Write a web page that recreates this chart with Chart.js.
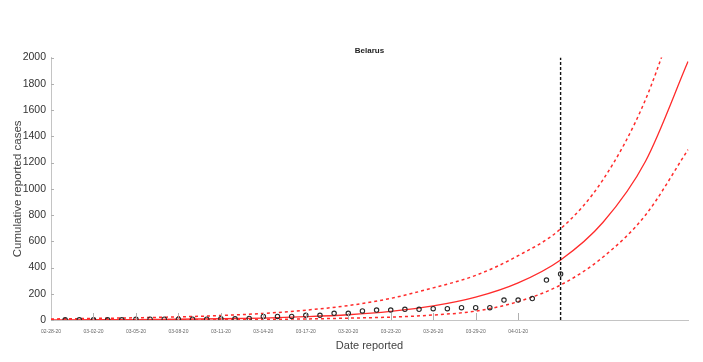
<!DOCTYPE html>
<html>
<head>
<meta charset="utf-8">
<title>Belarus</title>
<script src="https://cdn.jsdelivr.net/npm/chart.js@4.4.1/dist/chart.umd.min.js"></script>
<style>
  html, body { margin: 0; padding: 0; background: #fff; }
  canvas { display: block; }
</style>
</head>
<body>
<canvas id="casesChart" width="703" height="362"></canvas>
<script>
// every day on the x axis
const dateLabels = [
  "02-28-20", "02-29-20",
  "03-01-20", "03-02-20", "03-03-20", "03-04-20", "03-05-20", "03-06-20", "03-07-20", "03-08-20",
  "03-09-20", "03-10-20", "03-11-20", "03-12-20", "03-13-20", "03-14-20", "03-15-20", "03-16-20",
  "03-17-20", "03-18-20", "03-19-20", "03-20-20", "03-21-20", "03-22-20", "03-23-20", "03-24-20",
  "03-25-20", "03-26-20", "03-27-20", "03-28-20", "03-29-20", "03-30-20", "03-31-20",
  "04-01-20", "04-02-20", "04-03-20", "04-04-20", "04-05-20", "04-06-20", "04-07-20", "04-08-20",
  "04-09-20", "04-10-20", "04-11-20", "04-12-20", "04-13-20"
];

// the dates that get a printed label
const tickLabels = [
  "02-28-20", "03-02-20", "03-05-20", "03-08-20", "03-11-20", "03-14-20",
  "03-17-20", "03-20-20", "03-23-20", "03-26-20", "03-29-20", "04-01-20"
];

// reported cases (circles)
const observedDates = dateLabels.slice(1, 37);
const observedCases = [
  1, 1, 1, 1, 1, 6, 6, 6, 6, 6, 6, 9, 9, 12, 27, 27, 27, 36, 36, 51, 51,
  69, 76, 76, 81, 81, 86, 86, 94, 94, 94, 152, 152, 163, 304, 351
];

// fitted curve and its bounds, read every third day
const fitDates = [
  "02-28-20", "03-02-20", "03-05-20", "03-08-20", "03-11-20", "03-14-20", "03-17-20", "03-20-20",
  "03-23-20", "03-26-20", "03-29-20", "04-01-20", "04-04-20", "04-07-20", "04-10-20", "04-13-20"
];
const fitCentral = [1.4, 2.2, 3.6, 5.8, 9.4, 15, 25, 40, 66, 107, 174, 283, 458, 745, 1210, 1970];
const fitUpper   = [8, 12, 17, 24, 34, 50, 75, 110, 165, 245, 340, 490, 695, 1070, 1680, 2600];
const fitLower   = [0, 0.5, 1, 2, 3, 5, 8, 14, 22, 38, 68, 140, 267, 480, 800, 1298];

const cutoffDate = "04-04-20";
const yTicks = [0, 200, 400, 600, 800, 1000, 1200, 1400, 1600, 1800, 2000];

const FONT = "'Liberation Sans', Arial, Helvetica, sans-serif";
const RED = "#ff2b2b";
const AXIS = "#c4c4c4";

const pairs = (xs, ys) => xs.map((d, i) => ({ x: d, y: ys[i] }));

// small tick marks pointing into the plot
const inwardTicks = {
  id: "inwardTicks",
  afterDraw(chart) {
    const { ctx, chartArea, scales } = chart;
    const x = scales.x, y = scales.y;
    ctx.save();
    ctx.strokeStyle = "#b0b0b0";
    ctx.lineWidth = 1;
    ctx.beginPath();
    tickLabels.forEach((d) => {
      const i = dateLabels.indexOf(d);
      if (i <= 0) return;
      const px = Math.round(x.getPixelForValue(i)) + 0.5;
      ctx.moveTo(px, chartArea.bottom);
      ctx.lineTo(px, chartArea.bottom - 7);
    });
    yTicks.forEach((v) => {
      const py = Math.round(y.getPixelForValue(v)) + 0.5;
      ctx.moveTo(chartArea.left, py);
      ctx.lineTo(chartArea.left + 3, py);
    });
    ctx.stroke();
    ctx.restore();
  }
};

const ctx = document.getElementById("casesChart").getContext("2d");
new Chart(ctx, {
  type: "line",
  data: {
    labels: dateLabels,
    datasets: [
      {
        label: "Reported",
        data: pairs(observedDates, observedCases),
        showLine: false,
        pointStyle: "circle",
        pointRadius: 2.2,
        pointBorderWidth: 1.1,
        pointBorderColor: "#2a2a2a",
        pointBackgroundColor: "rgba(255,255,255,0)"
      },
      {
        label: "Cutoff",
        data: [{ x: cutoffDate, y: 0 }, { x: cutoffDate, y: 2000 }],
        borderColor: "#111",
        borderWidth: 1.4,
        borderDash: [3, 2],
        pointRadius: 0
      },
      {
        label: "Fit",
        data: pairs(fitDates, fitCentral),
        borderColor: RED,
        borderWidth: 1.3,
        pointRadius: 0,
        cubicInterpolationMode: "monotone"
      },
      {
        label: "Upper",
        data: pairs(fitDates, fitUpper),
        borderColor: RED,
        borderWidth: 1.5,
        borderDash: [3, 3],
        pointRadius: 0,
        cubicInterpolationMode: "monotone"
      },
      {
        label: "Lower",
        data: pairs(fitDates, fitLower),
        borderColor: RED,
        borderWidth: 1.5,
        borderDash: [3, 3],
        pointRadius: 0,
        cubicInterpolationMode: "monotone"
      }
    ]
  },
  options: {
    responsive: false,
    animation: false,
    layout: { padding: { left: 0, right: 15, top: 0, bottom: 0 } },
    plugins: {
      legend: { display: false },
      tooltip: { enabled: false },
      title: {
        display: true,
        fullSize: false,
        text: "Belarus",
        color: "#222",
        font: { family: FONT, size: 8, weight: "bold" },
        padding: { top: 46, bottom: 2 }
      }
    },
    scales: {
      x: {
        type: "category",
        offset: false,
        grid: { display: true, drawOnChartArea: false, drawTicks: false },
        border: { display: true, color: AXIS, width: 1 },
        ticks: {
          autoSkip: false,
          maxRotation: 0,
          minRotation: 0,
          padding: 9,
          color: "#666",
          font: { family: FONT, size: 5 },
          callback: (v, i) => (tickLabels.includes(dateLabels[i]) ? dateLabels[i] : "")
        },
        title: {
          display: true,
          text: "Date reported",
          color: "#444",
          font: { family: FONT, size: 11 },
          padding: { top: 9, bottom: 9 }
        },
        afterFit: (s) => { s.height = 42; }
      },
      y: {
        min: 0,
        max: 2000,
        grid: { display: true, drawOnChartArea: false, drawTicks: false },
        border: { display: true, color: AXIS, width: 1 },
        afterBuildTicks: (s) => { s.ticks = yTicks.map((v) => ({ value: v })); },
        ticks: {
          padding: 5,
          color: "#333",
          font: { family: FONT, size: 10.5 },
          callback: (v) => String(v)
        },
        title: {
          display: true,
          text: "Cumulative reported cases",
          color: "#444",
          font: { family: FONT, size: 11.5 },
          padding: { top: 11, bottom: 11 }
        },
        afterFit: (s) => { s.width = 51; }
      }
    }
  },
  plugins: [inwardTicks]
});
</script>
</body>
</html>
